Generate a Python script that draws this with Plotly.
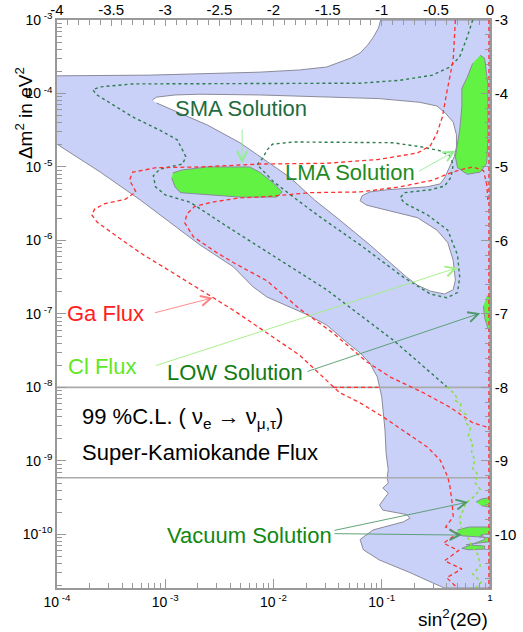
import plotly.graph_objects as go

# all shapes are read off the picture, in log10 units:
# x = log10 sin^2(2 theta), y = log10 dm^2 / eV^2

# allowed region (light blue), outer outline
blue_x = [-4.00, -3.14, -2.13, -1.76, -1.51, -1.29, -1.20, -1.13, -1.08, -1.03, -1.01, 0.00, 0.00,
          -0.42, -0.53, -0.74, -1.02, -1.17, -1.20, -1.08, -0.80, -0.74, -0.77, -0.99, -1.02, -0.97,
          -0.94, -0.99, -0.94, -0.95, -0.94, -0.96, -0.97, -1.00, -1.04, -1.11, -1.20, -1.32, -1.51,
          -1.69, -2.06, -2.19, -2.37, -2.68, -3.23, -3.60, -4.00]
blue_y = [-3.76, -3.75, -3.71, -3.68, -3.64, -3.52, -3.45, -3.34, -3.24, -3.11, -3.00, -3.00, -10.73,
          -10.73, -10.66, -10.52, -10.35, -10.21, -10.07, -9.94, -9.83, -9.78, -9.73, -9.67, -9.60, -9.50,
          -9.44, -9.37, -9.30, -9.23, -9.12, -8.89, -8.58, -8.13, -7.86, -7.67, -7.53, -7.39, -7.15,
          -7.01, -6.77, -6.63, -6.36, -6.06, -5.45, -5.07, -4.69]

# white hole inside the blue region (SMA / LMA gap)
hole_x = [-3.12, -3.08, -2.91, -2.68, -2.13, -1.57, -1.02, -0.65, -0.49, -0.41, -0.34, -0.31, -0.31,
          -0.33, -0.37, -0.42, -0.46, -0.58, -0.95, -1.11, -1.18, -1.20, -1.14, -0.90, -0.67, -0.49,
          -0.39, -0.34, -0.32, -0.34, -0.42, -0.55, -0.67, -0.77, -1.11, -1.39, -1.62, -1.85, -2.08,
          -2.31, -2.61, -2.93, -3.08]
hole_y = [-4.09, -4.05, -4.02, -4.01, -4.02, -4.05, -4.07, -4.12, -4.17, -4.27, -4.39, -4.56, -4.73,
          -4.86, -5.00, -5.15, -5.23, -5.27, -5.31, -5.34, -5.39, -5.46, -5.52, -5.61, -5.69, -5.86,
          -6.03, -6.27, -6.54, -6.67, -6.73, -6.69, -6.61, -6.50, -6.06, -5.72, -5.45, -5.14, -4.90,
          -4.67, -4.43, -4.22, -4.13]

# solution islands (bright green)
sma_x = [-2.93, -2.84, -2.61, -2.22, -2.13, -2.00, -1.92, -1.97, -2.31, -2.61, -2.86, -2.91, -2.94]
sma_y = [-5.08, -5.04, -5.00, -5.00, -5.07, -5.22, -5.34, -5.41, -5.41, -5.38, -5.35, -5.27, -5.15]
lma_x = [-0.09, -0.05, -0.02, -0.02, -0.03, -0.09, -0.21, -0.30, -0.32, -0.30, -0.28, -0.26, -0.26, -0.21, -0.16]
lma_y = [-3.48, -3.52, -3.86, -4.63, -4.95, -5.07, -5.10, -5.01, -4.86, -4.67, -4.50, -4.18, -3.93, -3.78, -3.59]
low_x = [-0.03, 0.00, 0.00, -0.02, -0.05, -0.06]
low_y = [-6.76, -6.76, -7.24, -7.19, -7.05, -6.89]
vac1_x = [-0.13, -0.08, 0.00, 0.00, -0.08]
vac1_y = [-9.56, -9.52, -9.50, -9.63, -9.61]
vac2_x = [-0.30, -0.19, 0.00, 0.00, -0.05, -0.10, 0.00, 0.00, -0.12, -0.22, -0.05, -0.05, -0.20, -0.26,
          -0.05, -0.05, -0.26, -0.30]
vac2_y = [-9.94, -9.90, -9.90, -9.99, -10.00, -10.03, -10.05, -10.10, -10.12, -10.14, -10.16, -10.20,
          -10.21, -10.19, -10.07, -10.04, -10.02, -9.98]

# dark green dotted contours
g1_x = [-0.16, -0.21, -0.28, -0.37, -0.53, -0.83, -1.20, -2.12, -3.30, -3.60, -3.67, -3.63, -3.51,
        -3.30, -3.05, -2.89, -2.84, -2.81, -2.84, -3.05, -3.11, -3.09, -3.00, -2.77, -2.45, -2.12,
        -1.51, -0.90, -0.40]
g1_y = [-3.00, -3.23, -3.50, -3.64, -3.75, -3.82, -3.86, -3.86, -3.87, -3.91, -3.95, -4.02, -4.13,
        -4.32, -4.50, -4.63, -4.77, -4.86, -4.96, -5.03, -5.12, -5.27, -5.38, -5.48, -5.79, -6.10,
        -6.67, -7.35, -7.99]
g2_x = [-2.15, -2.10, -2.06, -2.01, -1.82, -0.90, -0.62, -0.46, -0.37, -0.34, -0.36, -0.42, -0.55,
        -0.79, -0.83, -0.79, -0.58, -0.39, -0.30, -0.28, -0.30, -0.40, -0.55, -0.80, -1.20, -1.57,
        -1.78, -2.00, -2.15]
g2_y = [-4.97, -4.88, -4.77, -4.69, -4.66, -4.67, -4.73, -4.78, -4.85, -4.97, -5.14, -5.26, -5.31,
        -5.35, -5.42, -5.49, -5.65, -5.86, -6.20, -6.50, -6.71, -6.78, -6.73, -6.50, -6.06, -5.68,
        -5.45, -5.20, -4.97]

# Ga flux contours (red dashed)
ga1_x = [-0.32, -0.34, -0.40, -0.44, -0.49, -0.55, -0.67, -1.04, -1.51, -2.12, -2.68, -3.08, -3.30,
         -3.33, -3.27, -3.37, -3.56, -3.65, -3.68, -3.63, -3.48, -3.23, -2.93, -2.68, -2.37, -2.06,
         -1.76, -1.39, -1.20, -0.99, -0.77, -0.58, -0.46, -0.39, -0.37, -0.35, -0.34, -0.41, -0.30,
         -0.43, -0.29, -0.42, -0.26, -0.40, -0.30]
ga1_y = [-3.00, -3.54, -3.99, -4.32, -4.54, -4.71, -4.81, -4.90, -4.95, -4.96, -5.00, -5.01, -5.07,
         -5.18, -5.34, -5.44, -5.50, -5.57, -5.65, -5.75, -5.91, -6.17, -6.44, -6.67, -6.95, -7.26,
         -7.56, -8.07, -8.21, -8.40, -8.62, -8.81, -8.99, -9.22, -9.35, -9.57, -9.76, -9.90, -9.99,
         -10.12, -10.22, -10.36, -10.47, -10.59, -10.73]
ga2_x = [-0.02, -0.03, -0.06, -0.16, -0.28, -0.40, -0.53, -0.83, -1.20, -1.66, -2.12, -2.31, -2.57,
         -2.73, -2.80, -2.82, -2.74, -2.52, -2.36, -2.06, -1.76, -1.45, -1.14, -0.92, -0.62, -0.37,
         -0.16, -0.03]
ga2_y = [-5.45, -5.24, -5.05, -5.00, -5.04, -5.10, -5.18, -5.27, -5.34, -5.35, -5.41, -5.42, -5.48,
         -5.54, -5.64, -5.76, -5.95, -6.17, -6.31, -6.55, -6.93, -7.26, -7.65, -7.86, -8.07, -8.27,
         -8.48, -8.54]
ga_edge_x = [-0.01, -0.01]
ga_edge_y = [-3.00, -10.73]
ga_step_x = [-1.45, -1.03]
ga_step_y = [-8.00, -8.00]

# Cl flux contour (light green, ragged)
cl_x = [-0.40, -0.34, -0.31, -0.32, -0.27, -0.28, -0.22, -0.23, -0.18, -0.20, -0.16, -0.17, -0.14,
        -0.16, -0.11, -0.14, -0.09, -0.16, -0.22, -0.25, -0.28, -0.27, -0.21, -0.17, -0.11, -0.09,
        -0.16, -0.08, -0.13]
cl_y = [-7.99, -8.07, -8.13, -8.18, -8.22, -8.31, -8.37, -8.47, -8.55, -8.66, -8.76, -8.88, -8.99,
        -9.10, -9.19, -9.29, -9.39, -9.50, -9.57, -9.67, -9.78, -9.90, -10.03, -10.16, -10.28, -10.43,
        -10.54, -10.65, -10.73]

# horizontal grey boundaries
hline_levels = [-8.0, -9.23]

x_range = [-4, 0]
y_range = [-10.73, -3]

bottom_tickvals = [1e-4, 1e-3, 1e-2, 1e-1, 1]
bottom_ticktext = ['10<sup> -4</sup>', '10<sup> -3</sup>', '10<sup> -2</sup>', '10<sup> -1</sup>', '<sup>1</sup>']
left_tickvals = [1e-3, 1e-4, 1e-5, 1e-6, 1e-7, 1e-8, 1e-9, 1e-10]
left_ticktext = ['10<sup> -3</sup>', '10<sup> -4</sup>', '10<sup> -5</sup>', '10<sup> -6</sup>',
                 '10<sup> -7</sup>', '10<sup> -8</sup>', '10<sup> -9</sup>', '10<sup>-10</sup>']
top_tickvals = [-4, -3.5, -3, -2.5, -2, -1.5, -1, -0.5, 0]
top_ticktext = ['-4', '-3.5', '-3', '-2.5', '-2', '-1.5', '-1', '-0.5', '0']
right_tickvals = [-3, -4, -5, -6, -7, -8, -9, -10]
right_ticktext = ['-3', '-4', '-5', '-6', '-7', '-8', '-9', '-10']

BLUE = '#c9d1f8'
GREEN = '#62f244'
OUTLINE = '#8a8a9a'
AX = '#999999'
RED = '#ff3030'
FONT = 'Liberation Sans, Arial, sans-serif'
RED_DASH = '4px,3px'

fig = go.Figure()


def area(x, y, fill, on_log=False):
    if on_log:
        # drawn on the (log) bottom/left axes
        fig.add_trace(go.Scatter(x=[10 ** v for v in x], y=[10 ** v for v in y], mode='lines',
                                 fill='toself', fillcolor=fill, line=dict(color=OUTLINE, width=1),
                                 hoverinfo='skip', showlegend=False))
    else:
        fig.add_trace(go.Scatter(x=x, y=y, xaxis='x2', yaxis='y2', mode='lines', fill='toself',
                                 fillcolor=fill, line=dict(color=OUTLINE, width=1),
                                 hoverinfo='skip', showlegend=False))


def curve(x, y, color, dash, width=1.3):
    fig.add_trace(go.Scatter(x=x, y=y, xaxis='x2', yaxis='y2', mode='lines',
                             line=dict(color=color, dash=dash, width=width),
                             hoverinfo='skip', showlegend=False))


area(blue_x, blue_y, BLUE, on_log=True)
area(hole_x, hole_y, 'white', on_log=True)

for lvl in hline_levels:
    curve(x_range, [lvl, lvl], '#aaaaaa', 'solid', 1.6)

curve(ga_step_x, ga_step_y, RED, RED_DASH, 1.3)

for bx, by in [(sma_x, sma_y), (lma_x, lma_y), (low_x, low_y), (vac1_x, vac1_y), (vac2_x, vac2_y)]:
    area(bx, by, GREEN)

curve(g1_x, g1_y, '#2e7d4e', 'dot', 1.4)
curve(g2_x, g2_y, '#2e7d4e', 'dot', 1.4)
curve(ga1_x, ga1_y, RED, RED_DASH, 1.3)
curve(ga2_x, ga2_y, RED, RED_DASH, 1.3)
curve(ga_edge_x, ga_edge_y, RED, RED_DASH, 1.3)
curve(cl_x, cl_y, '#88e040', 'dot', 1.5)

# labels and pointers
labels = [
    ('SMA Solution', -2.30, -4.20, '#1f6b40', 'center'),
    ('LMA Solution', -1.29, -5.08, '#1f8a22', 'center'),
    ('Ga Flux', -3.55, -7.00, '#ff2020', 'center'),
    ('Cl Flux', -3.58, -7.71, '#5ee822', 'center'),
    ('LOW Solution', -2.36, -7.80, '#127a12', 'center'),
    ('99 %C.L. ( ν<sub>e</sub> → ν<sub>μ,τ</sub>)', -3.79, -8.41, 'black', 'left'),
    ('Super-Kamiokande Flux', -3.79, -8.88, 'black', 'left'),
    ('Vacuum Solution', -2.22, -10.01, '#118811', 'center'),
]
for text, lx, ly, col, anchor in labels:
    fig.add_annotation(x=lx, y=ly, xref='x2', yref='y2', text=text, showarrow=False,
                       xanchor=anchor, yanchor='middle', font=dict(size=22, color=col, family=FONT))

pointers = [
    ((-2.29, -4.47), (-2.29, -4.95), '#90ee90'),
    ((-0.67, -5.07), (-0.32, -4.78), '#90ee90'),
    ((-3.11, -6.99), (-2.56, -6.78), '#ff8080'),
    ((-3.10, -7.71), (-0.30, -6.37), '#a0ee80'),
    ((-1.70, -7.79), (-0.09, -6.99), '#4f9a6a'),
    ((-1.45, -9.99), (-0.26, -10.01), '#4f9a6a'),
    ((-1.45, -9.95), (-0.20, -9.56), '#4f9a6a'),
]
for (tx, ty), (hx, hy), col in pointers:
    fig.add_annotation(x=hx, y=hy, ax=tx, ay=ty, xref='x2', yref='y2', axref='x2', ayref='y2',
                       text='', showarrow=True, arrowhead=5, arrowsize=2.2, arrowwidth=0.9,
                       arrowcolor=col, standoff=0, startstandoff=0)

fig.add_annotation(x=-0.108, y=0.921, xref='paper', yref='paper', text='Δm<sup>2</sup> in eV<sup>2</sup>',
                   textangle=-90, showarrow=False, font=dict(size=19, color='black', family=FONT))
fig.add_annotation(x=1.0, y=-0.028, xref='paper', yref='paper', text='sin<sup>2</sup>(2Θ)',
                   xanchor='right', yanchor='top', showarrow=False,
                   font=dict(size=19, color='black', family=FONT))

minor_log_x = [k * 10.0 ** e for e in range(-4, 0) for k in range(2, 10)]
minor_log_y = [k * 10.0 ** e for e in range(-11, -3) for k in range(2, 10)]

common = dict(showgrid=False, zeroline=False, showline=True, linecolor=AX, linewidth=1.5,
              automargin=False, ticks='inside', tickcolor=AX, tickwidth=1)
log_font = dict(size=14, color='black', family=FONT)
lin_font = dict(size=15, color='black', family=FONT)

fig.update_layout(
    width=523, height=632,
    margin=dict(l=57, r=33, t=20, b=44),
    paper_bgcolor='white', plot_bgcolor='white',
    showlegend=False,
    xaxis=dict(type='log', range=x_range, tickmode='array', tickvals=bottom_tickvals,
               ticktext=bottom_ticktext, ticklen=9, tickfont=log_font,
               minor=dict(ticks='inside', ticklen=5, tickcolor=AX, tickvals=minor_log_x), **common),
    yaxis=dict(type='log', range=y_range, tickmode='array', tickvals=left_tickvals,
               ticktext=left_ticktext, ticklen=9, tickfont=log_font,
               minor=dict(ticks='inside', ticklen=5, tickcolor=AX, tickvals=minor_log_y), **common),
    xaxis2=dict(overlaying='x', side='top', anchor='y', range=x_range, tickmode='array',
                tickvals=top_tickvals, ticktext=top_ticktext, ticklen=6, tickfont=lin_font,
                ticklabelstandoff=-3,
                minor=dict(ticks='inside', ticklen=5, tickcolor=AX, dtick=0.1, tick0=0), **common),
    yaxis2=dict(overlaying='y', side='right', anchor='x', range=y_range, tickmode='array',
                tickvals=right_tickvals, ticktext=right_ticktext, ticklen=9, tickfont=lin_font,
                minor=dict(ticks='inside', ticklen=5, tickcolor=AX, dtick=0.2, tick0=0), **common),
)

# the page's default 8px body margin would shift the whole figure
fig.write_html('out.html', config={'displayModeBar': False},
               post_script="document.body.style.margin='0';")
